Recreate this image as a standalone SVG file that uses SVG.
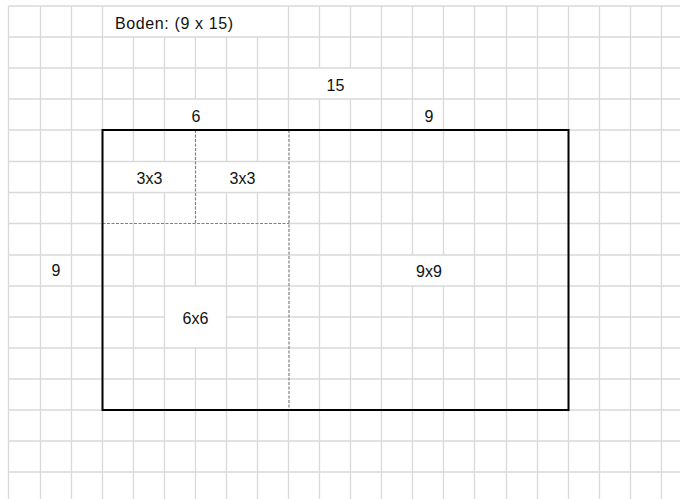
<svg xmlns="http://www.w3.org/2000/svg" width="680" height="499" viewBox="0 0 680 499">
<style>
.grid{stroke:#d9d9d9;stroke-width:1.3;fill:none}
.border{stroke:#000;stroke-width:2;fill:none}
.dash{stroke:#808080;stroke-width:1.2;stroke-dasharray:3 1.5;fill:none}
text{font-family:"Liberation Sans",Arial,sans-serif;font-size:16px;fill:#111}
.c{text-anchor:middle}
</style>
<rect width="680" height="499" fill="#fff"/>
<g id="grid" class="grid">
<path d="M8.5 6V499M40.5 6V499M71.5 6V499M102.5 6V499
M133.5 37V161.5M133.5 192.5V499
M164.5 37V161.5M164.5 192.5V499
M195.5 37V99M195.5 223.5V286M195.5 348V499
M226.5 37V161.5M226.5 192.5V499
M257.5 37V161.5M257.5 192.5V499
M288.5 6V130M288.5 410V499
M319.5 6V68M319.5 99V499
M350.5 6V68M350.5 99V499
M381.5 6V499
M412.5 6V255M412.5 286V499
M443.5 6V255M443.5 286V499
M474.5 6V499M506.5 6V499M537.5 6V499M568.5 6V499M599.5 6V499M630.5 6V499M661.5 6V499"/>
<path d="M8.5 6H680M8.5 37H680M8.5 68H680M8.5 99H680M8.5 130H680
M8.5 161.5H680M8.5 192.5H680
M8.5 223.5H102.5M289 223.5H680
M8.5 255H680M8.5 286H680
M8.5 317H164.5M226.5 317H680
M8.5 348H680M8.5 379H680M8.5 410H680M8.5 441H680M8.5 472H680"/>
</g>
<g id="divisions">
<path class="dash" d="M289 130V410M195.5 130V223.5M102.5 223.5H289"/>
</g>
<g id="floor">
<rect class="border" x="102.5" y="130" width="466" height="280"/>
</g>
<g id="labels">
<text x="115" y="29" textLength="118" lengthAdjust="spacing">Boden: (9 x 15)</text>
<text class="c" x="335.5" y="91">15</text>
<text class="c" x="196" y="121.5">6</text>
<text class="c" x="429" y="121.5">9</text>
<text class="c" x="56" y="276">9</text>
</g>
<g id="room-3x3-a"><text class="c" x="149.5" y="184">3x3</text></g>
<g id="room-3x3-b"><text class="c" x="242.5" y="184">3x3</text></g>
<g id="room-6x6"><text class="c" x="195.5" y="323.5">6x6</text></g>
<g id="room-9x9"><text class="c" x="429" y="276.5">9x9</text></g>
</svg>
